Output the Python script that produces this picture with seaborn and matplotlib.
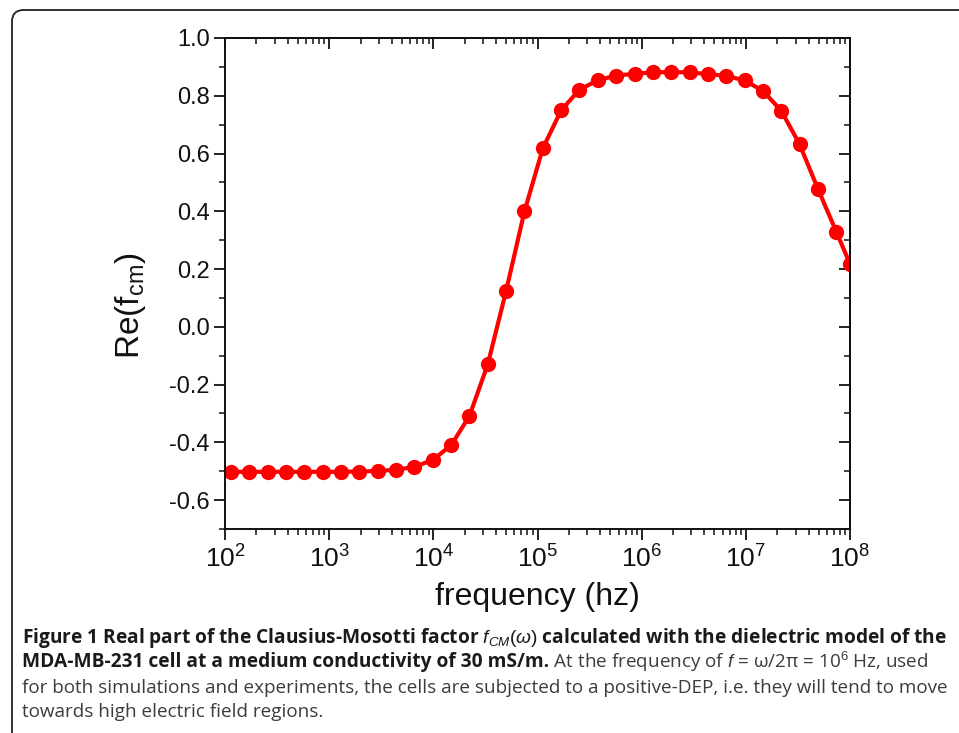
import numpy as np
import pandas as pd
import matplotlib
matplotlib.use("Agg")
import matplotlib.pyplot as plt
import seaborn as sns
from matplotlib.patches import FancyBboxPatch
from matplotlib.ticker import LogLocator, MultipleLocator, NullFormatter

# ---------------- data ----------------
frequency_hz = [114, 171, 257, 385, 578, 867, 1300, 1950, 2925, 4390,
                6580, 9870, 14800, 22200, 33300, 50000, 75000, 112500, 168800, 253000,
                380000, 570000, 854000, 1280000, 1920000, 2880000, 4320000, 6490000,
                9730000, 14600000, 21900000, 32800000, 49300000, 73900000, 100000000]
re_fcm = [-0.502, -0.502, -0.502, -0.502, -0.502, -0.502, -0.502, -0.501, -0.499, -0.495,
          -0.485, -0.461, -0.410, -0.309, -0.130, 0.125, 0.400, 0.618, 0.750, 0.821,
          0.854, 0.870, 0.876, 0.881, 0.882, 0.881, 0.875, 0.869, 0.853, 0.817,
          0.748, 0.632, 0.477, 0.329, 0.218]
x_ticks = [1e2, 1e3, 1e4, 1e5, 1e6, 1e7, 1e8]
y_ticks = [-0.6, -0.4, -0.2, 0.0, 0.2, 0.4, 0.6, 0.8, 1.0]

caption_l1_bold = "Figure 1 Real part of the Clausius-Mosotti factor $f_{CM}(\\omega)$ calculated with the dielectric model of the"
caption_l2_bold = "MDA-MB-231 cell at a medium conductivity of 30 mS/m."
caption_l2_norm = " At the frequency of $f$ = \u03c9/2\u03c0 = 10$^{6}$ Hz, used"
caption_l3 = "for both simulations and experiments, the cells are subjected to a positive-DEP, i.e. they will tend to move"
caption_l4 = "towards high electric field regions."

df = pd.DataFrame({"frequency": frequency_hz, "re": re_fcm})

sns.set_theme(style="ticks")
plt.rcParams["font.family"] = ["Liberation Sans", "DejaVu Sans"]
plt.rcParams["mathtext.fontset"] = "custom"
plt.rcParams["mathtext.rm"] = "Liberation Sans"
plt.rcParams["mathtext.it"] = "Liberation Sans:italic"
plt.rcParams["mathtext.bf"] = "Liberation Sans:bold"

W, H = 959, 733
fig = plt.figure(figsize=(W / 100, H / 100), dpi=100)
ax = fig.add_axes([225 / W, 1 - 529 / H, (850 - 225) / W, (529 - 38) / H])

sns.lineplot(data=df, x="frequency", y="re", ax=ax, color="#ff0000", linewidth=3.0,
             marker="o", markersize=11, markeredgewidth=0, markerfacecolor="#ff0000")
ax.set_xscale("log")
ax.set_xlim(1e2, 1e8)
ax.set_ylim(-0.7, 1.0)
ax.set_xticks(x_ticks)
ax.xaxis.set_minor_locator(LogLocator(base=10, subs=np.arange(2, 10), numticks=100))
ax.xaxis.set_minor_formatter(NullFormatter())
ax.set_yticks(y_ticks)
ax.set_yticklabels([f"{v:.1f}" for v in y_ticks])
ax.yaxis.set_minor_locator(MultipleLocator(0.1))

for s in ax.spines.values():
    s.set_color("#111111")
    s.set_linewidth(1.4)

ax.tick_params(axis="both", which="major", direction="out", length=8, width=1.3, color="#111111")
ax.tick_params(axis="both", which="minor", direction="out", length=4, width=1.1, color="#111111")
ax.tick_params(axis="y", labelsize=17, pad=3, labelcolor="#111111")
ax.tick_params(axis="x", labelsize=19, pad=4, labelcolor="#111111")

# mirrored ticks on top/right (inward)
axt = ax.secondary_xaxis("top")
axt.set_xticks(x_ticks)
axt.xaxis.set_minor_locator(LogLocator(base=10, subs=np.arange(2, 10), numticks=100))
axt.tick_params(axis="x", which="major", direction="in", length=8, width=1.3, labeltop=False, color="#111111")
axt.tick_params(axis="x", which="minor", direction="in", length=4, width=1.1, color="#111111")
axt.xaxis.set_minor_formatter(NullFormatter())
axt.xaxis.set_major_formatter(NullFormatter())
axt.spines["top"].set_linewidth(1.4)
axr = ax.secondary_yaxis("right")
axr.set_yticks(y_ticks)
axr.yaxis.set_minor_locator(MultipleLocator(0.1))
axr.tick_params(axis="y", which="major", direction="in", length=8, width=1.3, labelright=False, color="#111111")
axr.tick_params(axis="y", which="minor", direction="in", length=4, width=1.1, color="#111111")
axr.yaxis.set_major_formatter(NullFormatter())
axr.spines["right"].set_linewidth(1.4)

ax.set_xlabel("")
ax.set_ylabel("")
fig.text(537 / W, 1 - 597 / H, "frequency (hz)", ha="center", va="center", fontsize=23, color="#111111")
fig.text(131 / W, 1 - 306 / H, "Re(f$_{\\mathregular{cm}}$)", ha="center", va="center",
         rotation=90, fontsize=24, color="#111111")

# border box
box = FancyBboxPatch((12 / W, -0.2), 1.2, 1 - 10 / H + 0.2, boxstyle="round,pad=0,rounding_size=0.012",
                     transform=fig.transFigure, fill=False, edgecolor="#222222", linewidth=1.3,
                     mutation_aspect=W / H)
fig.patches.append(box)

cap_family = ["Open Sans", "Liberation Sans", "DejaVu Sans"]
renderer = fig.canvas.get_renderer()
x0 = 22 / W
ys = [638, 662, 688, 712]
bold_color = "#1a1a1a"
norm_color = "#3c3c3c"

def put(x, ypx, s, weight, size, color):
    return fig.text(x, 1 - ypx / H, s, ha="left", va="center", fontsize=size,
                    fontweight=weight, family=cap_family, color=color)

def fit(t, target):
    w = t.get_window_extent(renderer).width
    t.set_fontsize(t.get_fontsize() * target / w)
    return t.get_fontsize()

t3 = put(x0, ys[2], caption_l3, "normal", 12, norm_color)
nsize = fit(t3, 921)
t1 = put(x0, ys[0], caption_l1_bold, "bold", 12, bold_color)
bsize = fit(t1, 923)
tb = put(x0, ys[1], caption_l2_bold, "bold", bsize, bold_color)
bb = tb.get_window_extent(renderer)
put(bb.x1 / W, ys[1], caption_l2_norm, "normal", nsize, norm_color)
put(x0, ys[3], caption_l4, "normal", nsize, norm_color)

fig.savefig("out.png", dpi=100)
